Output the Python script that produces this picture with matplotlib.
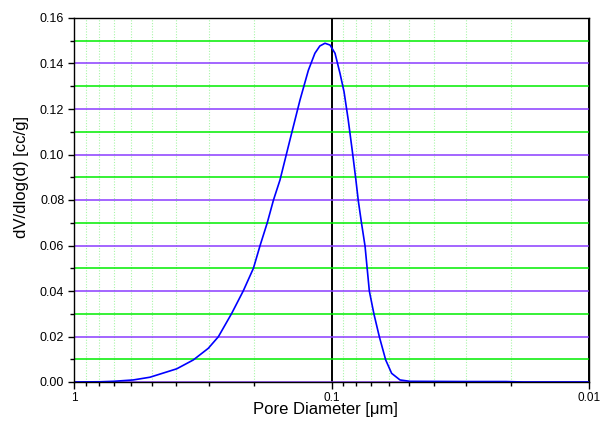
import matplotlib
matplotlib.use("Agg")
import matplotlib.pyplot as plt
from matplotlib.ticker import FixedLocator, LogLocator, NullFormatter, MultipleLocator, FormatStrFormatter

plt.rcParams['font.family'] = ['Liberation Sans', 'DejaVu Sans']

diameter = [1.0, 0.79, 0.703, 0.589, 0.507, 0.399, 0.344, 0.301, 0.275, 0.244,
            0.220, 0.201, 0.1895, 0.1776, 0.168, 0.1585, 0.145, 0.1325, 0.123,
            0.116, 0.111, 0.106, 0.1013, 0.0969, 0.0927, 0.0894, 0.0861, 0.0828,
            0.0804, 0.0787, 0.0765, 0.0741, 0.0727, 0.0713, 0.0684, 0.0652,
            0.0616, 0.0584, 0.0542, 0.0496, 0.03, 0.021, 0.018, 0.01]
dvdlogd = [0.0, 0.0001, 0.0003, 0.0009, 0.0021, 0.0058, 0.0097, 0.0148, 0.0199, 0.0302,
           0.0401, 0.0500, 0.0599, 0.0700, 0.0800, 0.0888, 0.1064, 0.1240, 0.1370,
           0.1445, 0.1477, 0.1489, 0.1481, 0.1445, 0.1357, 0.1276, 0.1152, 0.1005,
           0.0888, 0.0797, 0.0700, 0.0598, 0.0500, 0.0400, 0.0298, 0.0199,
           0.0097, 0.0038, 0.0009, 0.0003, 0.0002, 0.0002, 0.0, 0.0]

xticks = [1, 0.1, 0.01]
xticklabels = ["1", "0.1", "0.01"]

fig = plt.figure(figsize=(6.03, 4.21), dpi=100)
ax = fig.add_axes([74/603, 1-382/421, (589-74)/603, (382-18)/421])

ax.set_xscale('log')
ax.set_xlim(1, 0.01)
ax.set_ylim(0, 0.16)

ax.yaxis.set_major_locator(MultipleLocator(0.02))
ax.yaxis.set_minor_locator(MultipleLocator(0.01))
ax.xaxis.set_major_locator(FixedLocator(xticks))
ax.xaxis.set_minor_locator(LogLocator(base=10, subs=range(2, 10)))
ax.xaxis.set_minor_formatter(NullFormatter())
ax.set_xticklabels(xticklabels)

ax.grid(True, which='major', axis='y', color='#8a3cff', lw=1.1, zorder=1)
ax.grid(True, which='minor', axis='y', color='#00ee00', lw=1.1, zorder=1)
ax.grid(True, which='major', axis='x', color='black', lw=1.4, zorder=1)
ax.grid(True, which='minor', axis='x', color='#a8f5a8', lw=0.8, ls=(0, (1, 1.5)), zorder=0.5)
ax.set_axisbelow(True)

ax.plot(diameter, dvdlogd, color='#0000ff', lw=1.2, zorder=3)

ax.tick_params(axis='y', which='major', direction='out', length=4, width=1, labelsize=9, pad=3)
ax.tick_params(axis='y', which='minor', direction='out', length=3, width=1)
ax.tick_params(axis='x', which='major', direction='out', length=5, width=1, labelsize=8.5, pad=2.5)
ax.tick_params(axis='x', which='minor', direction='out', length=3, width=1)
ax.yaxis.set_major_formatter(FormatStrFormatter('%.2f'))

for s in ax.spines.values():
    s.set_linewidth(1.0)
    s.set_zorder(4)

ax.set_xlabel('Pore Diameter [\u03bcm]', fontsize=12)
ax.xaxis.set_label_coords(0.488, -0.054)
ax.set_ylabel('dV/dlog(d) [cc/g]', fontsize=12)
ax.yaxis.set_label_coords(-0.088, 0.563)

fig.savefig('out.png', dpi=100)
